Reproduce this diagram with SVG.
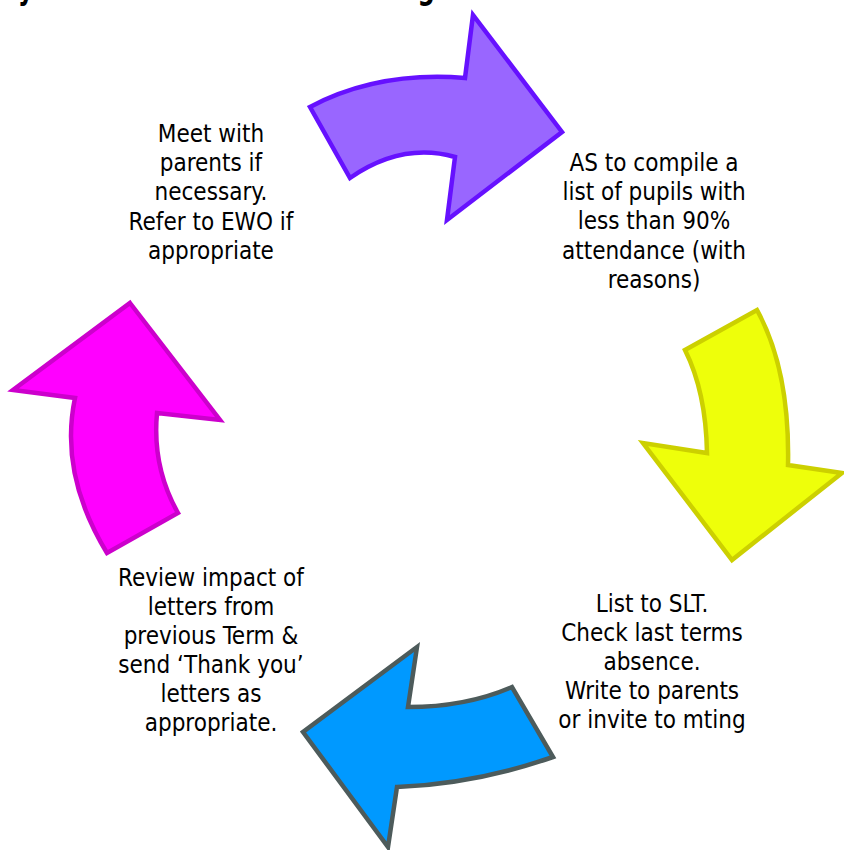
<svg xmlns="http://www.w3.org/2000/svg" width="844" height="850" viewBox="0 0 844 850">
<style>
.t{font-family:'DejaVu Sans Condensed','DejaVu Sans',sans-serif;font-size:24px;fill:#000;text-anchor:middle}
.title{font-family:'DejaVu Sans','Liberation Sans',sans-serif;font-size:36px;font-weight:bold;fill:#000}
.a{stroke-width:4.5;stroke-linejoin:miter}
</style>
<rect width="844" height="850" fill="#fff"/>
<text class="title" x="0" y="-1" textLength="435" lengthAdjust="spacingAndGlyphs">Cycle of Attendance Monitoring</text>
<g id="connectors">
<path id="arrow-purple" class="a" fill="#9966FF" stroke="#6611FF" d="M310,107 Q378,71 465,78 L473,15 L562,132 L447,220 L455,157 Q402,142 350,178 Z"/>
<path id="arrow-yellow" class="a" fill="#EEFF0A" stroke="#CCD000" d="M685,350 L757,310 Q790,370 788,465 L842,473 L732,560 L643,443 L707,453 Q706,392 685,350 Z"/>
<path id="arrow-blue" class="a" fill="#0099FF" stroke="#4D5B5B" d="M417,647 L408,707 Q466,707 512,687 L553,757 Q475,784 397,787 L388,847 L303,732 Z"/>
<path id="arrow-pink" class="a" fill="#FF00FF" stroke="#CC00CC" d="M130,303 L220,420 L157,413 Q152,467 178,513 L107,553 Q59,474 75,398 L13,390 Z"/>
</g>
<g id="node-meet">
<text class="t" x="211" y="142">Meet with</text>
<text class="t" x="211" y="171">parents if</text>
<text class="t" x="211" y="200">necessary.</text>
<text class="t" x="211" y="230">Refer to EWO if</text>
<text class="t" x="211" y="259">appropriate</text>
</g>
<g id="node-compile">
<text class="t" x="654" y="171">AS to compile a</text>
<text class="t" x="654" y="200">list of pupils with</text>
<text class="t" x="654" y="229">less than 90%</text>
<text class="t" x="654" y="259">attendance (with</text>
<text class="t" x="654" y="288">reasons)</text>
</g>
<g id="node-slt">
<text class="t" x="652" y="612">List to SLT.</text>
<text class="t" x="652" y="641">Check last terms</text>
<text class="t" x="652" y="670">absence.</text>
<text class="t" x="652" y="699">Write to parents</text>
<text class="t" x="652" y="728">or invite to mting</text>
</g>
<g id="node-review">
<text class="t" x="211" y="586">Review impact of</text>
<text class="t" x="211" y="615">letters from</text>
<text class="t" x="211" y="644">previous Term &amp;</text>
<text class="t" x="211" y="673">send ‘Thank you’</text>
<text class="t" x="211" y="702">letters as</text>
<text class="t" x="211" y="731">appropriate.</text>
</g>
</svg>
